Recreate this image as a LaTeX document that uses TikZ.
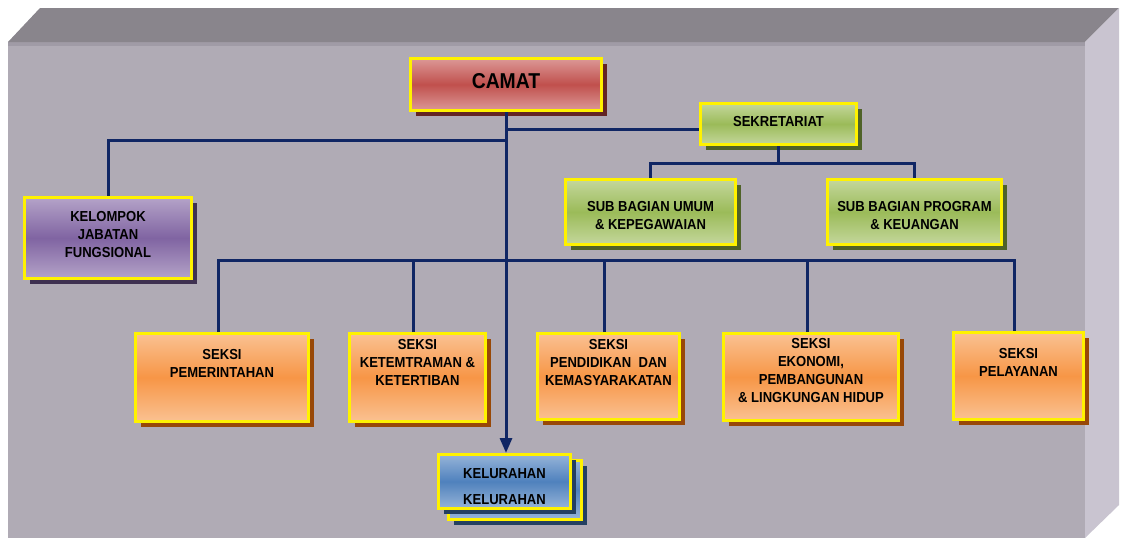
\documentclass[tikz,border=0pt]{standalone}
\usepackage{fontspec}
\setmainfont{Liberation Sans}
\newfontfamily\boxfont[FakeStretch=0.9]{Liberation Sans}
\usetikzlibrary{arrows.meta,shadows}

\definecolor{navy}{RGB}{16,38,100}
\definecolor{wallfront}{RGB}{176,171,181}
\definecolor{walltop}{RGB}{137,133,140}
\definecolor{wallside}{RGB}{201,196,208}
\definecolor{wallline}{RGB}{160,155,166}
\definecolor{redlight}{RGB}{220,152,150}
\definecolor{redmid}{RGB}{192,80,77}
\definecolor{redshade}{RGB}{99,37,35}
\definecolor{greenlight}{RGB}{196,215,156}
\definecolor{greenmid}{RGB}{155,187,89}
\definecolor{greenshade}{RGB}{79,98,40}
\definecolor{purplelight}{RGB}{180,163,200}
\definecolor{purplemid}{RGB}{128,100,162}
\definecolor{purpleshade}{RGB}{63,49,81}
\definecolor{orangelight}{RGB}{250,193,146}
\definecolor{orangemid}{RGB}{247,150,70}
\definecolor{orangeshade}{RGB}{152,72,7}
\definecolor{bluelight}{RGB}{150,180,216}
\definecolor{bluemid}{RGB}{79,129,189}
\definecolor{blueshade}{RGB}{36,64,97}

\tikzset{
  box/.style={rectangle, draw=yellow, line width=3pt, inner sep=0pt},
  redbox/.style={box, top color=redlight, bottom color=redlight, middle color=redmid,
    drop shadow={shadow xshift=5pt, shadow yshift=-5pt, fill=redshade, opacity=1}},
  greenbox/.style={box, top color=greenlight, bottom color=greenlight, middle color=greenmid,
    drop shadow={shadow xshift=5pt, shadow yshift=-5pt, fill=greenshade, opacity=1}},
  purplebox/.style={box, top color=purplelight, bottom color=purplelight, middle color=purplemid,
    drop shadow={shadow xshift=5pt, shadow yshift=-5pt, fill=purpleshade, opacity=1}},
  seksibox/.style={box, top color=orangelight, bottom color=orangelight, middle color=orangemid,
    drop shadow={shadow xshift=5pt, shadow yshift=-5pt, fill=orangeshade, opacity=1}},
  bluebox/.style={box, top color=bluelight, bottom color=bluelight, middle color=bluemid,
    drop shadow={shadow xshift=5pt, shadow yshift=-5pt, fill=blueshade, opacity=1}},
  txt/.style={font=\boxfont\bfseries\fontsize{14.5}{18}\selectfont, align=center, inner sep=0pt},
  conn/.style={draw=navy, line width=3pt},
}

\begin{document}
\begin{tikzpicture}[x=1pt, y=-1pt]
	\useasboundingbox (0,0) rectangle (1125,541);
	% wall behind the chart
	\fill [wallfront] (8,42) rectangle (1085,538);
	\fill [wallline] (8,42) rectangle (1085,46);
	\fill [walltop] (8,42) -- (40,8) -- (1119,8) -- (1085,42) -- cycle;
	\fill [wallside] (1085,42) -- (1119,8) -- (1119,505) -- (1085,538) -- cycle;

	% boxes
	\node [redbox, minimum width=191pt, minimum height=52pt] (camat) at (506,84.5) {};
	\node [txt, font=\boxfont\bfseries\fontsize{21.5}{24}\selectfont] (camatt) at ([yshift=3pt]camat) {CAMAT};
	\node [greenbox, minimum width=156pt, minimum height=41pt] (sek) at (778.5,124) {};
	\node [txt] (sekt) at ([yshift=2pt]sek) {SEKRETARIAT};
	\node [purplebox, minimum width=167pt, minimum height=81pt] (jab) at (108,238) {};
	\node [txt] (jabt) at ([yshift=3pt]jab) {KELOMPOK\\JABATAN\\FUNGSIONAL};
	\node [greenbox, minimum width=170pt, minimum height=65pt] (umum) at (650.5,212) {};
	\node [txt] (umumt) at ([yshift=-4pt]umum) {SUB BAGIAN UMUM\\\& KEPEGAWAIAN};
	\node [greenbox, minimum width=174pt, minimum height=65pt] (prog) at (914.5,212) {};
	\node [txt] (progt) at ([yshift=-4pt]prog) {SUB BAGIAN PROGRAM\\\& KEUANGAN};

	\node [seksibox, minimum width=173pt, minimum height=88pt] (pem) at (222,377.5) {};
	\node [txt] (pemt) at ([yshift=14pt]pem) {SEKSI\\PEMERINTAHAN};
	\node [seksibox, minimum width=136pt, minimum height=88pt] (ket) at (417.5,377.5) {};
	\node [txt] (kett) at ([yshift=15pt]ket) {SEKSI\\KETEMTRAMAN \&\\KETERTIBAN};
	\node [seksibox, minimum width=142pt, minimum height=86pt] (pen) at (608.5,376.5) {};
	\node [txt] (pent) at ([yshift=14pt]pen) {SEKSI\\PENDIDIKAN~ DAN\\KEMASYARAKATAN};
	\node [seksibox, minimum width=175pt, minimum height=87pt] (eko) at (811,377) {};
	\node [txt] (ekot) at ([yshift=6.5pt]eko) {SEKSI\\EKONOMI,\\PEMBANGUNAN\\\& LINGKUNGAN HIDUP};
	\node [seksibox, minimum width=130pt, minimum height=87pt] (pel) at (1018.5,376) {};
	\node [txt] (pelt) at ([yshift=14pt]pel) {SEKSI\\PELAYANAN};

	\node [bluebox, minimum width=133pt, minimum height=59pt] (kelb) at (515,490) {};
	\node [bluebox, minimum width=132pt, minimum height=54pt] (kel) at (504.5,481.5) {};
	\node [txt] (kelt) at ([yshift=-5.5pt]kel) {KELURAHAN\\[8pt]KELURAHAN};

	% connectors
	\coordinate (j1) at (506,129);
	\coordinate (j2) at (506,140);
	\coordinate (j3) at (777,163);
	\coordinate (bus) at (506,260);
	\draw [conn, -{Triangle[length=15pt,width=12pt]}] (camat.south) -- (camat.south |- kel.north);
	\draw [conn] (j1) -- (j1 -| sek.west);
	\draw [conn] (j2) -| (jab.north);
	\draw [conn] (sek.south) -- (sek.south |- j3);
	\draw [conn] (umum.north) -- (umum.north |- j3) -- (prog.north |- j3) -- (prog.north);
	\draw [conn] ([xshift=-4pt]pem.north) |- (bus) -| ([xshift=-4pt]pel.north);
	\foreach \s in {ket, pen, eko} {
		\draw [conn] ([xshift=-4pt]\s.north) -- ([xshift=-4pt]\s.north |- bus);
	}
\end{tikzpicture}
\end{document}
